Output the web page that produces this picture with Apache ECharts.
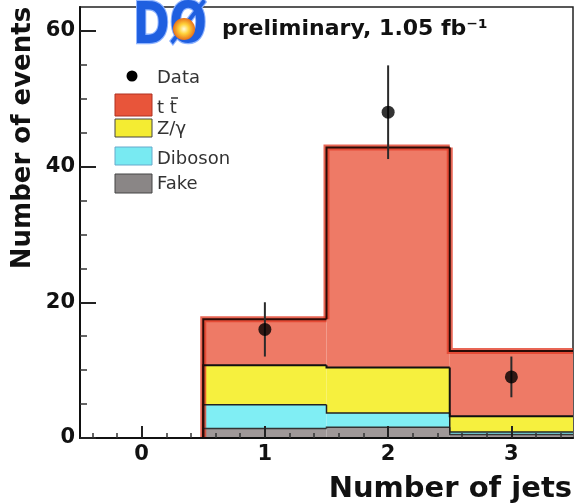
<!DOCTYPE html>
<html>
<head>
<meta charset="utf-8">
<script src="https://cdn.jsdelivr.net/npm/echarts@6/dist/echarts.min.js"></script>
<style>
  html, body { margin: 0; padding: 0; background: #fff; }
  #chart { width: 577px; height: 504px; }
</style>
</head>
<body>
<div id="chart"></div>
<script>
// Jet multiplicity bins and the expected event counts per process
const jetBins = [0, 1, 2, 3];
const ttbarEvents = [0, 6.8, 32.4, 9.6];
const zgammaEvents = [0, 5.8, 6.7, 2.3];
const dibosonEvents = [0, 3.5, 2.1, 0.4];
const fakeEvents = [0, 1.4, 1.6, 0.5];

// Observed data with statistical errors
const dataCounts = [0, 16, 48, 9];
const dataErrors = [0, 4.0, 6.9, 3.0];

// Axis tick positions and labels
const xMajorTicks = [0, 1, 2, 3];
const yMajorTicks = [0, 20, 40, 60];
const yMinorTicks = [5, 10, 15, 25, 30, 35, 45, 50, 55];
const xMinorTicks = [];
for (let t = -0.4; t < 3.45; t += 0.2) {
  const v = Math.round(t * 10) / 10;
  if (Math.abs(v - Math.round(v)) > 1e-6) xMinorTicks.push(v);
}

const COLORS = {
  ttbar: '#ee7a66',
  zgamma: '#f6f03e',
  diboson: '#80eef4',
  fake: '#9f9898'
};

const chart = echarts.init(document.getElementById('chart'), null, { renderer: 'canvas' });

// Stack the processes bottom-up: fake, diboson, Z/gamma, ttbar
const layers = [
  { name: 'Fake', values: fakeEvents, color: COLORS.fake, line: '#333', lw: 1.5 },
  { name: 'Diboson', values: dibosonEvents, color: COLORS.diboson, line: '#222', lw: 1.5 },
  { name: 'Z/γ', values: zgammaEvents, color: COLORS.zgamma, line: '#111', lw: 2 },
  { name: 'tt', values: ttbarEvents, color: COLORS.ttbar, line: '#2a0a05', lw: 2, glow: '#e2402a' }
];

const cumulative = jetBins.map(() => 0);
const layerSeries = layers.map(layer => {
  const rows = jetBins.map((b, i) => {
    const lo = cumulative[i];
    const hi = lo + layer.values[i];
    return [b, lo, hi];
  });
  rows.forEach((r, i) => { r.push(i > 0 ? rows[i - 1][2] : 0); });
  jetBins.forEach((b, i) => { cumulative[i] += layer.values[i]; });
  return {
    type: 'custom',
    name: layer.name,
    xAxisIndex: 0,
    yAxisIndex: 0,
    z: 2,
    data: rows,
    renderItem(params, api) {
      const x = api.value(0), lo = api.value(1), hi = api.value(2), prev = api.value(3);
      if (hi === 0 && prev === 0) return { type: 'group', children: [] };
      const pLo = api.coord([x - 0.5, lo]);
      const pHi = api.coord([x + 0.5, hi]);
      const pts = [api.coord([x - 0.5, prev]), api.coord([x - 0.5, hi]), api.coord([x + 0.5, hi])];
      const children = [{
        type: 'rect',
        shape: { x: pLo[0], y: pHi[1], width: pHi[0] - pLo[0], height: pLo[1] - pHi[1] },
        style: { fill: layer.color }
      }];
      if (layer.glow) {
        children.push({
          type: 'polyline', z2: 50,
          shape: { points: pts },
          style: { stroke: layer.glow, lineWidth: 6, fill: null, opacity: 0.8 }
        });
      }
      children.push({
        type: 'polyline', z2: 60,
        shape: { points: pts },
        style: { stroke: layer.line, lineWidth: layer.lw, fill: null }
      });
      return { type: 'group', children };
    }
  };
});

const pointRows = jetBins
  .map((b, i) => [b, dataCounts[i], dataErrors[i]])
  .filter(r => r[1] > 0);

const errorSeries = {
  type: 'custom',
  name: 'Data errors',
  z: 5,
  data: pointRows,
  renderItem(params, api) {
    const x = api.value(0), v = api.value(1), e = api.value(2);
    const a = api.coord([x, v - e]);
    const b = api.coord([x, v + e]);
    return {
      type: 'line',
      shape: { x1: a[0], y1: a[1], x2: b[0], y2: b[1] },
      style: { stroke: '#2a2a2a', lineWidth: 2 }
    };
  }
};

const pointSeries = {
  type: 'scatter',
  name: 'Data',
  z: 6,
  symbol: 'circle',
  symbolSize: 13,
  itemStyle: { color: '#000' },
  data: pointRows.map(r => [r[0], r[1]])
};

const FONT = 'DejaVu Sans';

const legendItems = [
  { label: 'Data', y: 78 },
  { label: 't t', y: 108, box: [94, 22], color: '#e8553a', stroke: '#b03020', bar: true },
  { label: 'Z/γ', y: 129, box: [119, 18], color: '#f4ec32', stroke: '#444' },
  { label: 'Diboson', y: 159, box: [147, 18], color: '#78eaf2', stroke: '#6ac' },
  { label: 'Fake', y: 184, box: [174, 19], color: '#8a8686', stroke: '#444' }
];

const graphics = [];
legendItems.forEach(it => {
  if (it.box) {
    graphics.push({
      type: 'rect', z: 20,
      shape: { x: 115, y: it.box[0], width: 37, height: it.box[1] },
      style: { fill: it.color, stroke: it.stroke, lineWidth: 1 }
    });
  } else {
    graphics.push({
      type: 'circle', z: 20,
      shape: { cx: 132, cy: 76, r: 5.5 },
      style: { fill: '#000' }
    });
  }
  graphics.push({
    type: 'text', x: 157, y: it.y, z: 20,
    style: {
      text: it.label, fill: '#333', font: '18px "' + FONT + '"',
      verticalAlign: 'middle'
    }
  });
  if (it.bar) {
    // anti-top bar over the second t
    graphics.push({
      type: 'line', z: 20,
      shape: { x1: 171, y1: 98, x2: 178, y2: 98 },
      style: { stroke: '#333', lineWidth: 1.5 }
    });
  }
});

// Experiment logo and luminosity header
graphics.push({
  type: 'text', x: 133, y: 28, z: 30, scaleY: 1.3,
  style: {
    text: 'DØ', fill: '#1f5fe0', stroke: '#8fb4ff', lineWidth: 2,
    font: 'bold 44px "' + FONT + '"', verticalAlign: 'middle'
  }
});
graphics.push({
  type: 'circle', z: 31,
  shape: { cx: 184, cy: 29, r: 11 },
  style: {
    fill: {
      type: 'radial', x: 0.5, y: 0.5, r: 0.5,
      colorStops: [
        { offset: 0, color: '#fffbe0' },
        { offset: 0.45, color: '#ffd23a' },
        { offset: 1, color: '#e8701a' }
      ]
    }
  }
});
graphics.push({
  type: 'text', x: 222, y: 29, z: 30,
  style: {
    text: 'preliminary, 1.05 fb⁻¹', fill: '#111',
    font: 'bold 22px "' + FONT + '"', verticalAlign: 'middle'
  }
});

// Axis titles
graphics.push({
  type: 'text', z: 30,
  x: 572, y: 489,
  style: {
    text: 'Number of jets', fill: '#111', font: 'bold 29px "' + FONT + '"',
    align: 'right', verticalAlign: 'middle'
  }
});
graphics.push({
  type: 'text', z: 30,
  x: 23, y: 138, rotation: Math.PI / 2,
  style: {
    text: 'Number of events', fill: '#111', font: 'bold 26px "' + FONT + '"',
    align: 'center', verticalAlign: 'middle'
  }
});

const labelStyle = {
  fontFamily: FONT, fontWeight: 'bold', fontSize: 21, color: '#111'
};

chart.setOption({
  animation: false,
  backgroundColor: '#fff',
  grid: {
    left: 80, top: 7, right: 4, bottom: 66,
    show: true, borderColor: '#222', borderWidth: 1.5, backgroundColor: 'transparent'
  },
  xAxis: [
    {
      type: 'value', min: -0.5, max: 3.5, position: 'bottom', z: 10,
      axisLine: { show: true, onZero: false, lineStyle: { color: '#111', width: 2 } },
      axisTick: { show: true, inside: true, length: 12, customValues: xMajorTicks, lineStyle: { color: '#222', width: 2 } },
      axisLabel: Object.assign({ customValues: xMajorTicks, margin: 6 }, labelStyle),
      splitLine: { show: false }
    },
    {
      type: 'value', min: -0.5, max: 3.5, position: 'bottom', z: 10,
      axisLine: { show: false, onZero: false },
      axisTick: { show: true, inside: true, length: 5, customValues: xMinorTicks, lineStyle: { color: '#333', width: 1.5 } },
      axisLabel: { show: false },
      splitLine: { show: false }
    }
  ],
  yAxis: [
    {
      type: 'value', min: 0, max: 63.5, position: 'left', z: 10,
      axisLine: { show: true, onZero: false, lineStyle: { color: '#111', width: 2 } },
      axisTick: { show: true, inside: true, length: 16, customValues: yMajorTicks, lineStyle: { color: '#222', width: 2 } },
      axisLabel: Object.assign({ customValues: yMajorTicks, margin: 5 }, labelStyle),
      splitLine: { show: false }
    },
    {
      type: 'value', min: 0, max: 63.5, position: 'left', z: 10,
      axisLine: { show: false, onZero: false },
      axisTick: { show: true, inside: true, length: 7, customValues: yMinorTicks, lineStyle: { color: '#333', width: 1.5 } },
      axisLabel: { show: false },
      splitLine: { show: false }
    }
  ],
  series: layerSeries.concat([errorSeries, pointSeries]),
  graphic: graphics
});
</script>
</body>
</html>
